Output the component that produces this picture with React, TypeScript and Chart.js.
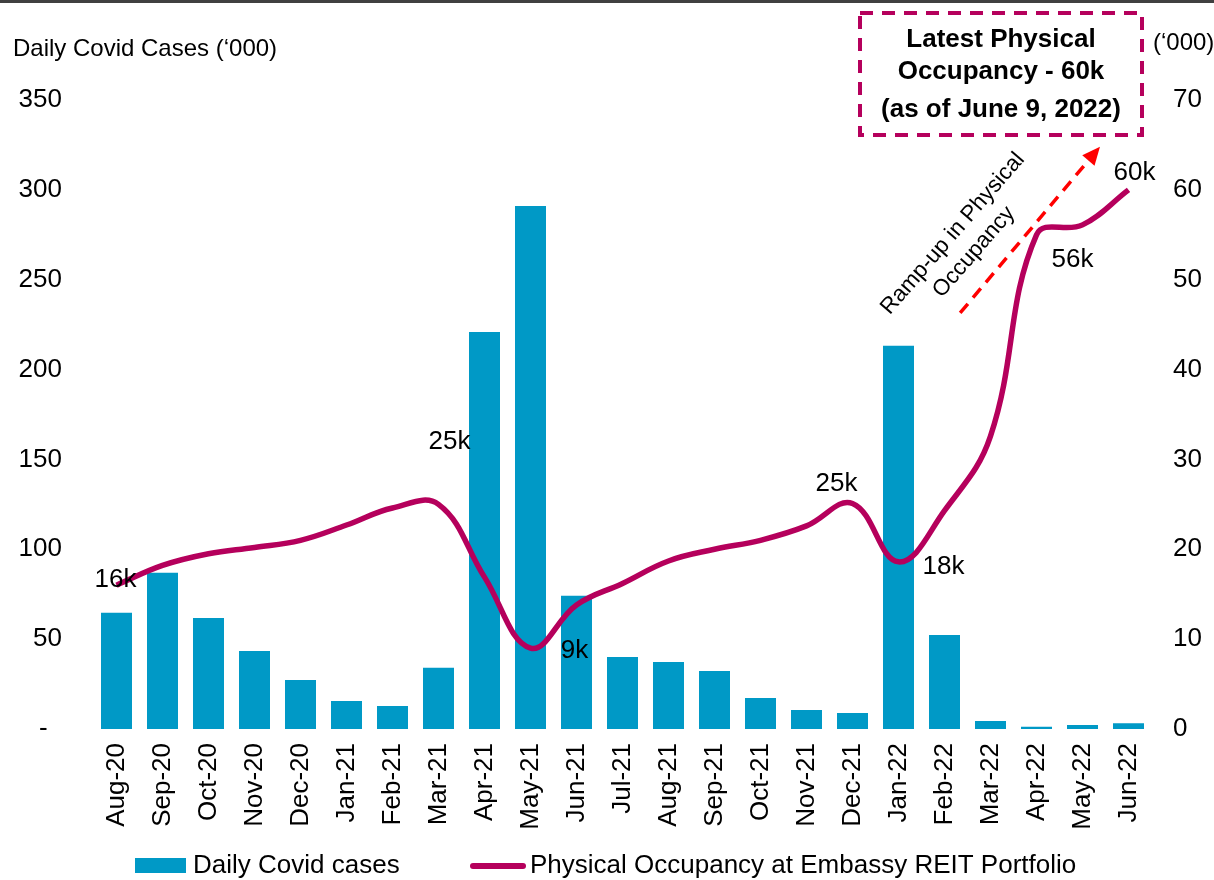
import React, { useEffect, useRef } from 'react';
import { Chart, registerables } from 'chart.js';

Chart.register(...registerables);

const months = [
  'Aug-20', 'Sep-20', 'Oct-20', 'Nov-20', 'Dec-20', 'Jan-21', 'Feb-21', 'Mar-21',
  'Apr-21', 'May-21', 'Jun-21', 'Jul-21', 'Aug-21', 'Sep-21', 'Oct-21', 'Nov-21',
  'Dec-21', 'Jan-22', 'Feb-22', 'Mar-22', 'Apr-22', 'May-22', 'Jun-22',
];

const covidCases = [
  64.7, 87.0, 61.8, 43.4, 27.3, 15.6, 12.8, 34.1, 220.9, 291.0, 74.2, 40.1,
  37.3, 32.3, 17.2, 10.6, 8.9, 213.3, 52.3, 4.4, 1.3, 2.2, 3.2,
];

const occupancy = [
  16.0, 18.2, 19.5, 20.2, 21.0, 22.7, 24.6, 25.0, 16.9, 9.0, 13.8, 16.2,
  18.7, 20.0, 21.0, 22.6, 25.1, 18.6, 24.3, 32.6, 55.0, 56.1, 60.0,
];

const occupancyLabels = [
  '16k', '', '', '', '', '', '', '25k', '', '9k', '', '',
  '', '', '', '', '25k', '18k', '', '', '', '56k', '60k',
];

// label offsets (px) from the point they annotate
const labelOffsets: Record<number, [number, number]> = {
  0: [-1, -5],
  7: [11, -63],
  9: [44, 3],
  16: [-16, -20],
  17: [45, 5],
  21: [-10, 35],
  22: [6, -17],
};

const leftTicks = [0, 50, 100, 150, 200, 250, 300, 350];
const rightTicks = [0, 10, 20, 30, 40, 50, 60, 70];

const BAR_COLOR = '#0099C6';
const LINE_COLOR = '#B5005C';
const FONT = '"Liberation Sans", Arial, sans-serif';

const overlayPlugin = {
  id: 'overlay',
  afterDatasetsDraw(chart: any) {
    const ctx: CanvasRenderingContext2D = chart.ctx;
    const xs = chart.scales.x;
    const y1 = chart.scales.y1;
    ctx.save();

    // data labels on occupancy line
    ctx.font = `26px ${FONT}`;
    ctx.fillStyle = '#000';
    ctx.textAlign = 'center';
    ctx.textBaseline = 'middle';
    occupancyLabels.forEach((lab, i) => {
      if (!lab) return;
      const off = labelOffsets[i] || [0, 0];
      const px = xs.getPixelForValue(i);
      const py = y1.getPixelForValue(occupancy[i]);
      ctx.fillText(lab, px + off[0], py + off[1]);
    });

    // red dashed arrow
    const ax0 = xs.getPixelForValue(18.34);
    const ay0 = y1.getPixelForValue(46.3);
    const ax1 = xs.getPixelForValue(21.38);
    const ay1 = y1.getPixelForValue(64.8);
    const ang = Math.atan2(ay1 - ay0, ax1 - ax0);
    const headLen = 18;
    ctx.strokeStyle = '#FF0000';
    ctx.lineWidth = 3.5;
    ctx.setLineDash([12, 8]);
    ctx.beginPath();
    ctx.moveTo(ax0, ay0);
    ctx.lineTo(ax1 - headLen * Math.cos(ang), ay1 - headLen * Math.sin(ang));
    ctx.stroke();
    ctx.setLineDash([]);
    ctx.fillStyle = '#FF0000';
    ctx.beginPath();
    ctx.moveTo(ax1, ay1);
    ctx.lineTo(
      ax1 - headLen * Math.cos(ang) + 8 * Math.sin(ang),
      ay1 - headLen * Math.sin(ang) - 8 * Math.cos(ang)
    );
    ctx.lineTo(
      ax1 - headLen * Math.cos(ang) - 8 * Math.sin(ang),
      ay1 - headLen * Math.sin(ang) + 8 * Math.cos(ang)
    );
    ctx.closePath();
    ctx.fill();

    // rotated annotation text
    const tx = xs.getPixelForValue(18.41);
    const ty = y1.getPixelForValue(54.1);
    ctx.save();
    ctx.translate(tx, ty);
    ctx.rotate((-49 * Math.PI) / 180);
    ctx.fillStyle = '#000';
    ctx.font = `22.5px ${FONT}`;
    ctx.textAlign = 'center';
    ctx.textBaseline = 'middle';
    ctx.fillText('Ramp-up in Physical', 0, -14);
    ctx.fillText('Occupancy', 0, 14);
    ctx.restore();

    // dashed callout box
    ctx.strokeStyle = LINE_COLOR;
    ctx.lineWidth = 4;
    ctx.setLineDash([13, 9]);
    ctx.strokeRect(860, 13, 282, 122);
    ctx.setLineDash([]);
    ctx.fillStyle = '#000';
    ctx.font = `bold 26px ${FONT}`;
    ctx.textAlign = 'center';
    ctx.textBaseline = 'middle';
    ctx.fillText('Latest Physical', 1001, 40);
    ctx.fillText('Occupancy - 60k', 1001, 72);
    ctx.fillText('(as of June 9, 2022)', 1001, 110);

    // axis titles
    ctx.font = `24px ${FONT}`;
    ctx.textAlign = 'left';
    ctx.fillText('Daily Covid Cases (\u2018000)', 13, 49);
    ctx.fillText('(\u2018000)', 1153, 43);

    // legend
    const ly = 866;
    ctx.fillStyle = BAR_COLOR;
    ctx.fillRect(135, ly - 8, 51, 15);
    ctx.fillStyle = '#000';
    ctx.font = `26px ${FONT}`;
    ctx.textAlign = 'left';
    ctx.fillText(chart.data.datasets[1].label, 193, ly);
    ctx.strokeStyle = LINE_COLOR;
    ctx.lineWidth = 6;
    ctx.lineCap = 'round';
    ctx.beginPath();
    ctx.moveTo(473, ly);
    ctx.lineTo(523, ly);
    ctx.stroke();
    ctx.fillText(chart.data.datasets[0].label, 530, ly);

    ctx.restore();
  },
};

export default function App() {
  const canvasRef = useRef<HTMLCanvasElement | null>(null);

  useEffect(() => {
    document.body.style.margin = '0';
    const canvas = canvasRef.current;
    if (!canvas) return;
    const chart = new Chart(canvas, {
      type: 'bar',
      data: {
        labels: months,
        datasets: [
          {
            type: 'line',
            label: 'Physical Occupancy at Embassy REIT Portfolio',
            data: occupancy,
            yAxisID: 'y1',
            borderColor: LINE_COLOR,
            backgroundColor: LINE_COLOR,
            borderWidth: 5.5,
            tension: 0.4,
            pointRadius: 0,
            order: 0,
          } as any,
          {
            type: 'bar',
            label: 'Daily Covid cases',
            data: covidCases,
            yAxisID: 'y',
            backgroundColor: BAR_COLOR,
            borderWidth: 0,
            categoryPercentage: 1,
            barPercentage: 0.674,
            order: 1,
          } as any,
        ],
      },
      options: {
        responsive: false,
        animation: false,
        layout: { padding: { top: 100, left: 0, right: 0, bottom: 0 } },
        plugins: {
          legend: { display: false },
          tooltip: { enabled: false },
        },
        scales: {
          x: {
            offset: true,
            grid: { display: false, drawTicks: false },
            border: { display: false },
            ticks: {
              autoSkip: false,
              minRotation: 90,
              maxRotation: 90,
              padding: 14,
              color: '#000',
              font: { family: FONT, size: 26 },
            },
            afterFit: (s: any) => {
              s.height = 151;
            },
          },
          y: {
            position: 'left',
            min: 0,
            max: 350,
            grid: { display: false, drawTicks: false },
            border: { display: false },
            afterBuildTicks: (s: any) => {
              s.ticks = leftTicks.map((v) => ({ value: v }));
            },
            ticks: {
              padding: 31.5,
              color: '#000',
              font: { family: FONT, size: 26 },
              callback: (v: any) => (Number(v) === 0 ? '-  ' : String(v)),
            },
            afterFit: (s: any) => {
              s.width = 93.5;
            },
          },
          y1: {
            position: 'right',
            min: 0,
            max: 70,
            grid: { display: false, drawTicks: false },
            border: { display: false },
            afterBuildTicks: (s: any) => {
              s.ticks = rightTicks.map((v) => ({ value: v }));
            },
            ticks: {
              padding: 21.5,
              color: '#000',
              font: { family: FONT, size: 26 },
            },
            afterFit: (s: any) => {
              s.width = 62.5;
            },
          },
        },
      },
      plugins: [overlayPlugin],
    });
    return () => chart.destroy();
  }, []);

  return (
    <div
      style={{
        position: 'relative',
        width: 1214,
        height: 880,
        overflow: 'hidden',
        background: '#fff',
      }}
    >
      <canvas
        ref={canvasRef}
        width={1214}
        height={880}
        style={{ display: 'block', width: 1214, height: 880 }}
      />
      <div
        style={{
          position: 'absolute',
          left: 0,
          top: 0,
          width: 1214,
          height: 3,
          background: '#404040',
        }}
      />
    </div>
  );
}
